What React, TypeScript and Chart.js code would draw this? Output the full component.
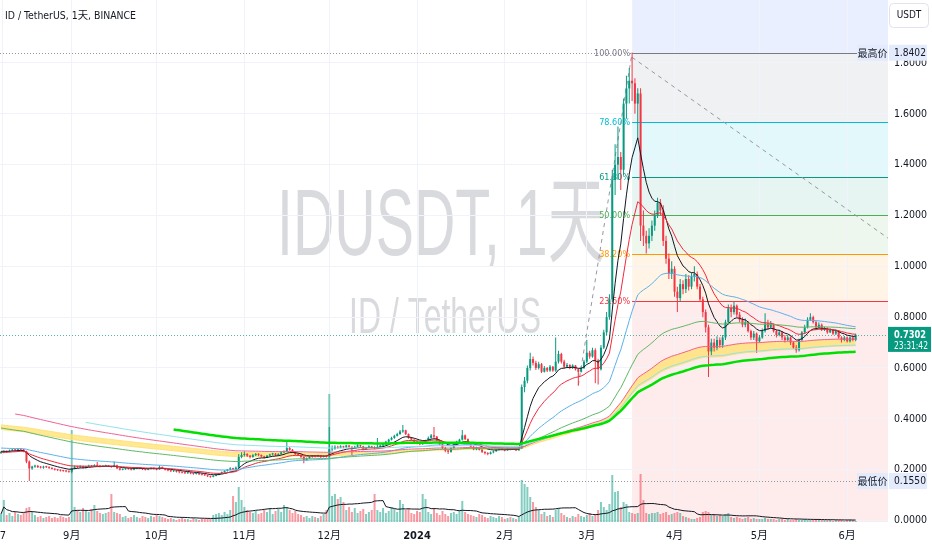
import React, { useEffect, useRef } from 'react';
import { Chart, registerables } from 'chart.js';

Chart.register(...registerables);

// ---------------- data ----------------
const firstOpen = 0.266;
const closes = [
  0.268,0.272,0.270,0.275,0.278,0.276,0.280,0.279,0.272,0.232,
  0.205,0.212,0.215,0.210,0.208,0.212,0.210,0.206,0.203,0.200,
  0.198,0.196,0.195,0.193,0.192,0.205,0.212,0.210,0.214,0.208,
  0.212,0.216,0.213,0.218,0.215,0.212,0.214,0.216,0.213,0.211,
  0.217,0.205,0.200,0.202,0.205,0.203,0.200,0.204,0.207,0.205,
  0.202,0.200,0.203,0.206,0.204,0.201,0.210,0.205,0.200,0.197,
  0.194,0.196,0.192,0.190,0.188,0.186,0.189,0.185,0.183,0.186,
  0.182,0.180,0.178,0.174,0.172,0.176,0.180,0.185,0.190,0.195,
  0.200,0.205,0.202,0.208,0.250,0.258,0.262,0.255,0.250,0.257,
  0.262,0.258,0.252,0.248,0.255,0.260,0.263,0.258,0.262,0.268,
  0.272,0.285,0.278,0.270,0.262,0.258,0.250,0.238,0.245,0.250,
  0.255,0.252,0.256,0.250,0.254,0.252,0.280,0.282,0.290,0.286,
  0.292,0.288,0.295,0.290,0.285,0.290,0.296,0.292,0.280,0.286,
  0.292,0.288,0.283,0.290,0.295,0.300,0.310,0.318,0.325,0.333,
  0.340,0.350,0.355,0.340,0.325,0.318,0.310,0.305,0.300,0.305,
  0.315,0.325,0.335,0.330,0.315,0.300,0.285,0.275,0.270,0.285,
  0.300,0.310,0.318,0.335,0.320,0.305,0.290,0.280,0.285,0.278,
  0.270,0.265,0.262,0.268,0.272,0.278,0.282,0.280,0.276,0.283,
  0.279,0.282,0.276,0.284,0.525,0.550,0.600,0.635,0.620,0.600,
  0.615,0.585,0.600,0.590,0.605,0.590,0.625,0.655,0.625,0.605,
  0.612,0.600,0.610,0.595,0.585,0.600,0.625,0.660,0.645,0.670,
  0.630,0.595,0.680,0.740,0.800,0.870,1.340,1.400,1.430,1.380,
  1.640,1.700,1.730,1.720,1.640,1.680,1.160,1.120,1.090,1.120,
  1.160,1.200,1.250,1.220,1.100,1.030,0.970,0.990,0.900,0.875,
  0.930,0.910,0.950,0.920,0.960,0.970,0.920,0.870,0.820,0.760,
  0.665,0.700,0.680,0.710,0.690,0.720,0.780,0.835,0.820,0.845,
  0.810,0.790,0.770,0.780,0.745,0.720,0.735,0.705,0.720,0.745,
  0.775,0.760,0.770,0.745,0.730,0.740,0.720,0.710,0.720,0.700,
  0.680,0.670,0.710,0.740,0.760,0.790,0.800,0.780,0.760,0.770,
  0.750,0.755,0.740,0.750,0.735,0.745,0.720,0.710,0.720,0.705,
  0.720,0.710,0.7302,
];
const highs = [
  0.272,0.276,0.275,0.279,0.282,0.281,0.284,0.283,0.281,0.274,
  0.236,0.215,0.219,0.218,0.214,0.215,0.215,0.213,0.209,0.206,
  0.203,0.201,0.199,0.198,0.196,0.208,0.216,0.215,0.217,0.216,
  0.215,0.219,0.218,0.221,0.230,0.217,0.217,0.219,0.218,0.215,
  0.232,0.219,0.207,0.205,0.208,0.207,0.205,0.207,0.210,0.209,
  0.207,0.204,0.205,0.209,0.208,0.206,0.216,0.212,0.207,0.202,
  0.199,0.198,0.198,0.194,0.192,0.190,0.191,0.190,0.187,0.188,
  0.188,0.184,0.182,0.180,0.176,0.178,0.182,0.187,0.193,0.198,
  0.203,0.209,0.208,0.212,0.262,0.268,0.272,0.265,0.258,0.262,
  0.266,0.265,0.260,0.255,0.258,0.263,0.267,0.266,0.265,0.272,
  0.276,0.310,0.290,0.281,0.272,0.265,0.260,0.252,0.248,0.254,
  0.258,0.258,0.259,0.257,0.256,0.256,0.368,0.295,0.296,0.294,
  0.296,0.294,0.298,0.297,0.292,0.294,0.300,0.298,0.294,0.290,
  0.296,0.294,0.292,0.325,0.298,0.304,0.314,0.322,0.329,0.337,
  0.345,0.356,0.376,0.357,0.342,0.328,0.320,0.313,0.307,0.310,
  0.318,0.330,0.340,0.368,0.332,0.317,0.302,0.290,0.280,0.288,
  0.304,0.314,0.322,0.356,0.338,0.323,0.307,0.294,0.290,0.288,
  0.281,0.272,0.268,0.271,0.275,0.281,0.285,0.285,0.282,0.286,
  0.285,0.285,0.284,0.287,0.535,0.565,0.610,0.660,0.645,0.628,
  0.625,0.620,0.608,0.604,0.612,0.608,0.720,0.668,0.660,0.632,
  0.620,0.615,0.615,0.612,0.598,0.606,0.632,0.710,0.668,0.680,
  0.678,0.636,0.690,0.750,0.820,0.890,1.380,1.480,1.550,1.450,
  1.660,1.750,1.780,1.8402,1.740,1.700,1.700,1.220,1.140,1.150,
  1.180,1.220,1.270,1.265,1.240,1.120,1.050,1.020,1.000,0.920,
  0.950,0.945,0.970,0.965,0.975,1.000,0.980,0.930,0.880,0.830,
  0.770,0.715,0.715,0.725,0.720,0.730,0.790,0.850,0.850,0.860,
  0.850,0.820,0.800,0.795,0.785,0.750,0.745,0.740,0.730,0.755,
  0.815,0.790,0.785,0.775,0.750,0.750,0.745,0.730,0.730,0.725,
  0.705,0.690,0.715,0.745,0.770,0.800,0.815,0.805,0.785,0.780,
  0.775,0.762,0.760,0.755,0.752,0.750,0.748,0.725,0.726,0.724,
  0.725,0.724,0.735,
];
const lows = [
  0.262,0.265,0.266,0.268,0.272,0.272,0.273,0.275,0.268,0.225,
  0.155,0.200,0.208,0.207,0.205,0.204,0.207,0.204,0.201,0.197,
  0.195,0.193,0.192,0.190,0.188,0.186,0.202,0.206,0.207,0.205,
  0.205,0.210,0.210,0.211,0.212,0.209,0.210,0.212,0.210,0.208,
  0.209,0.203,0.197,0.198,0.200,0.200,0.197,0.198,0.202,0.202,
  0.199,0.197,0.198,0.201,0.201,0.198,0.200,0.203,0.197,0.194,
  0.191,0.191,0.189,0.186,0.185,0.183,0.184,0.182,0.180,0.181,
  0.179,0.177,0.175,0.171,0.168,0.170,0.174,0.178,0.183,0.188,
  0.193,0.198,0.198,0.200,0.205,0.245,0.252,0.250,0.244,0.247,
  0.254,0.253,0.248,0.244,0.246,0.252,0.256,0.254,0.255,0.259,
  0.265,0.270,0.274,0.266,0.258,0.254,0.246,0.225,0.235,0.242,
  0.247,0.248,0.249,0.246,0.248,0.248,0.248,0.272,0.278,0.282,
  0.284,0.284,0.286,0.286,0.258,0.283,0.288,0.288,0.276,0.277,
  0.285,0.284,0.280,0.281,0.287,0.292,0.298,0.306,0.315,0.322,
  0.330,0.337,0.345,0.336,0.322,0.314,0.306,0.300,0.296,0.298,
  0.303,0.313,0.322,0.325,0.312,0.296,0.280,0.268,0.262,0.267,
  0.283,0.297,0.306,0.315,0.317,0.300,0.286,0.276,0.276,0.275,
  0.266,0.260,0.257,0.260,0.265,0.270,0.275,0.276,0.272,0.274,
  0.276,0.277,0.273,0.274,0.282,0.505,0.540,0.590,0.610,0.592,
  0.594,0.580,0.582,0.584,0.585,0.585,0.585,0.618,0.618,0.598,
  0.600,0.595,0.596,0.590,0.530,0.582,0.596,0.620,0.636,0.640,
  0.540,0.535,0.590,0.675,0.730,0.790,0.860,1.280,1.340,1.300,
  1.360,1.580,1.640,1.650,1.600,1.500,1.100,1.080,1.050,1.070,
  1.100,1.140,1.190,1.200,1.080,1.010,0.950,0.950,0.880,0.820,
  0.860,0.890,0.895,0.905,0.910,0.940,0.910,0.860,0.800,0.740,
  0.565,0.650,0.665,0.670,0.680,0.680,0.710,0.770,0.800,0.810,
  0.800,0.780,0.760,0.760,0.740,0.710,0.710,0.660,0.700,0.715,
  0.740,0.750,0.755,0.740,0.720,0.725,0.710,0.700,0.705,0.690,
  0.675,0.660,0.665,0.705,0.735,0.755,0.785,0.775,0.750,0.755,
  0.745,0.745,0.735,0.738,0.730,0.730,0.715,0.700,0.705,0.700,
  0.700,0.705,0.705,
];
// volume in relative units
const volumes = [
  8,22,7,9,6,10,8,7,9,14,
  15,10,7,5,6,4,5,6,4,5,
  4,6,5,4,5,92,15,12,10,14,
  12,10,13,17,11,9,8,9,10,28,
  10,9,8,5,6,4,5,7,5,4,
  6,5,4,6,5,7,6,5,4,3,
  4,3,2,3,4,3,3,2,4,3,
  2,3,3,4,3,7,8,9,7,10,
  8,12,26,20,35,22,15,12,10,9,
  11,8,9,12,10,14,8,11,13,10,
  17,15,12,9,11,8,7,5,6,4,
  6,5,4,6,8,12,128,26,28,23,
  25,20,12,15,10,14,9,11,13,8,
  10,12,28,12,10,14,9,11,15,13,
  10,22,18,12,14,9,8,11,10,28,
  23,10,8,13,9,7,11,8,6,9,
  10,8,12,21,10,8,7,6,5,8,
  7,5,4,6,5,4,6,5,3,4,
  5,4,3,5,42,38,35,25,20,15,
  12,8,10,6,7,5,12,14,9,7,
  5,4,6,5,8,6,5,7,9,6,
  8,12,20,15,12,18,47,30,31,15,
  20,18,10,9,8,9,48,22,9,8,
  9,9,10,8,9,10,7,8,9,10,
  9,6,5,4,3,3,4,5,10,11,
  10,7,8,6,7,6,8,9,5,4,
  5,4,3,4,5,3,4,3,3,3,
  4,3,3,3,2,3,3,2,3,2,
  2,3,2,2,3,2,2,2,2,3,
  2,2,2,2,1,2,2,2,1,2,
  2,2,1,
];

const monthTickDays = [0.7, 25, 55, 86, 116, 147, 178, 207, 238, 268, 299];
const monthTickLabels = ['7', '9月', '10月', '11月', '12月', '2024', '2月', '3月', '4月', '5月', '6月'];
const priceTicks = [0, 0.2, 0.4, 0.6, 0.8, 1.0, 1.2, 1.4, 1.6, 1.8];

const maPeriods = [10, 20, 50, 100, 144, 169, 200];
const maStartDays = [0, 0, 0, 0, 5, 30, 61];
const maStartValues = [0.272, 0.268, 0.285, 0.364, 0.419, 0.386, 0.358];
const tunnelPeriods = [144, 169];
const tunnelStartValues = [0.358, 0.376];
const volumeMaPeriod = 20;

const fibHigh = 1.8402;
const fibLow = 0.5606;
const fibStartDay = 223;
const fibLevels = [1, 0.786, 0.618, 0.5, 0.382, 0.236];
const fibLabels = ['100.00%', '78.60%', '61.80%', '50.00%', '38.20%', '23.60%'];
const trendUpDays = [204, 223];
const trendUpPrices = [0.533, 1.8402];
const trendDownDays = [223, 313.4];
const trendDownPrices = [1.822, 1.111];

const highestPrice = 1.8402;
const lowestPrice = 0.155;
const lastPrice = 0.7302;
const countdownText = '23:31:42';
const titleText = 'ID / TetherUS, 1天, BINANCE';
const watermarkMain = 'IDUSDT, 1天';
const watermarkSub = 'ID / TetherUS';
const highLabel = '最高价';
const lowLabel = '最低价';
const currencyLabel = 'USDT';

// ---------------- styles ----------------
const FAM = "'Liberation Sans Narrow', 'DejaVu Sans Condensed', 'Liberation Sans', 'Noto Sans CJK SC', sans-serif";
const WM_FAM = "'Liberation Sans', 'Noto Sans CJK SC', sans-serif";
const UP = '#089981';
const DOWN = '#f23645';
const TEXT = '#131722';
const GRID = '#f0f3fa';
const MA_COLORS = ['#131722', '#f2293a', '#5eb1ea', '#5fb863', '#f06292', '#8fe3ea', '#00e000'];
const MA_WIDTHS = [1, 1, 1, 1, 1, 1, 2.5];
const FIB_COLORS = ['#787b86', '#00bcd4', '#089981', '#4caf50', '#ff9800', '#f23645'];
const ZONE_FILLS = [
  'rgba(41,98,255,0.10)',
  'rgba(120,123,134,0.11)',
  'rgba(0,188,212,0.11)',
  'rgba(8,153,129,0.10)',
  'rgba(76,175,80,0.10)',
  'rgba(255,152,0,0.10)',
  'rgba(242,54,69,0.10)',
];

function emaSeries(src: number[], period: number, startIndex: number, seed: number) {
  const a = 2 / (period + 1);
  const out: (number | null)[] = src.map(() => null);
  let e = seed;
  out[startIndex] = e;
  for (let i = startIndex + 1; i < src.length; i++) {
    e = e + a * (src[i] - e);
    out[i] = e;
  }
  return out;
}

function smaSeries(src: number[], period: number) {
  return src.map((_, i) => {
    const s = Math.max(0, i - period + 1);
    let sum = 0;
    for (let k = s; k <= i; k++) sum += src[k];
    return sum / (i - s + 1);
  });
}

function drawSquished(ctx: any, text: string, left: number, baseline: number, size: number, width: number) {
  ctx.font = `${size}px ${WM_FAM}`;
  const w = ctx.measureText(text).width;
  ctx.save();
  ctx.translate(left, baseline);
  ctx.scale(width / w, 1);
  ctx.textAlign = 'left';
  ctx.textBaseline = 'alphabetic';
  ctx.fillText(text, 0, 0);
  ctx.restore();
}

const decorPlugin = {
  id: 'decor',
  beforeDraw(chart: any) {
    const { ctx, chartArea: a, scales } = chart;
    const x = scales.x;
    const y = scales.y;
    ctx.save();
    ctx.fillStyle = '#ffffff';
    ctx.fillRect(0, 0, chart.width, chart.height);
    const fx = x.getPixelForValue(fibStartDay);
    const lv = fibLevels.map((l) => y.getPixelForValue(fibLow + (fibHigh - fibLow) * l));
    const bounds = [a.top, ...lv, a.bottom];
    for (let i = 0; i < ZONE_FILLS.length; i++) {
      ctx.fillStyle = ZONE_FILLS[i];
      ctx.fillRect(fx, bounds[i], a.right - fx, bounds[i + 1] - bounds[i]);
    }
    ctx.fillStyle = 'rgba(120,123,134,0.28)';
    drawSquished(ctx, watermarkMain, 277, 255, 95, 328);
    drawSquished(ctx, watermarkSub, 349, 333, 50, 192);
    ctx.restore();
  },
  beforeDatasetsDraw(chart: any) {
    const { ctx, chartArea: a, scales } = chart;
    const x = scales.x;
    const y = scales.y;
    ctx.save();
    ctx.lineWidth = 1;
    const fx = x.getPixelForValue(fibStartDay);
    ctx.setLineDash([1, 2]);
    const dotted: [number, string][] = [
      [highestPrice, '#9598a1'],
      [lowestPrice, '#9598a1'],
      [lastPrice, 'rgba(8,153,129,0.7)'],
    ];
    dotted.forEach(([p, c]) => {
      const py = Math.round(y.getPixelForValue(p)) + 0.5;
      ctx.strokeStyle = c;
      ctx.beginPath();
      ctx.moveTo(a.left, py);
      ctx.lineTo(a.right, py);
      ctx.stroke();
    });
    ctx.setLineDash([]);
    ctx.font = `9px ${FAM}`;
    ctx.textAlign = 'right';
    ctx.textBaseline = 'middle';
    fibLevels.forEach((l, i) => {
      const py = Math.round(y.getPixelForValue(fibLow + (fibHigh - fibLow) * l)) + 0.5;
      ctx.strokeStyle = FIB_COLORS[i];
      ctx.beginPath();
      ctx.moveTo(fx, py);
      ctx.lineTo(a.right, py);
      ctx.stroke();
      ctx.fillStyle = FIB_COLORS[i];
      ctx.fillText(fibLabels[i], fx - 2, py);
    });
    ctx.setLineDash([4, 4]);
    ctx.strokeStyle = '#9598a1';
    ctx.beginPath();
    ctx.moveTo(x.getPixelForValue(trendUpDays[0]), y.getPixelForValue(trendUpPrices[0]));
    ctx.lineTo(x.getPixelForValue(trendUpDays[1]), y.getPixelForValue(trendUpPrices[1]));
    ctx.stroke();
    ctx.beginPath();
    ctx.moveTo(x.getPixelForValue(trendDownDays[0]), y.getPixelForValue(trendDownPrices[0]));
    ctx.lineTo(x.getPixelForValue(trendDownDays[1]), y.getPixelForValue(trendDownPrices[1]));
    ctx.stroke();
    ctx.restore();
  },
  afterDraw(chart: any) {
    const { ctx, chartArea: a, scales } = chart;
    const y = scales.y;
    ctx.save();
    ctx.fillStyle = TEXT;
    ctx.font = `11px ${FAM}`;
    ctx.textAlign = 'left';
    ctx.textBaseline = 'middle';
    ctx.fillText(titleText, 5, 16, 131);
    const boxes: [number, string][] = [
      [highestPrice, highLabel],
      [lowestPrice, lowLabel],
    ];
    boxes.forEach(([p, lab]) => {
      const py = y.getPixelForValue(p);
      ctx.fillStyle = '#e3ebfc';
      ctx.fillRect(a.right - 31, py - 8, 31, 16);
      ctx.fillRect(a.right + 1, py - 8, 38, 16);
      ctx.fillStyle = TEXT;
      ctx.font = `10px 'Noto Sans CJK SC', sans-serif`;
      ctx.textAlign = 'center';
      ctx.fillText(lab, a.right - 15.5, py);
      ctx.font = `11px ${FAM}`;
      ctx.textAlign = 'left';
      ctx.fillText(p.toFixed(4), a.right + 6, py, 32);
    });
    const ly = y.getPixelForValue(lastPrice);
    ctx.fillStyle = UP;
    ctx.fillRect(a.right, ly - 8, chart.width - a.right - 1, 25);
    ctx.fillStyle = '#ffffff';
    ctx.textAlign = 'left';
    ctx.font = `bold 11px ${FAM}`;
    ctx.fillText(lastPrice.toFixed(4), a.right + 6, ly, 32);
    ctx.font = `11px ${FAM}`;
    ctx.fillText(countdownText, a.right + 6, ly + 11, 34);
    const bx = a.right + 1.5, by = 3.5, bw = 39, bh = 24, r = 4;
    ctx.beginPath();
    ctx.moveTo(bx + r, by);
    ctx.lineTo(bx + bw - r, by);
    ctx.arcTo(bx + bw, by, bx + bw, by + r, r);
    ctx.lineTo(bx + bw, by + bh - r);
    ctx.arcTo(bx + bw, by + bh, bx + bw - r, by + bh, r);
    ctx.lineTo(bx + r, by + bh);
    ctx.arcTo(bx, by + bh, bx, by + bh - r, r);
    ctx.lineTo(bx, by + r);
    ctx.arcTo(bx, by, bx + r, by, r);
    ctx.closePath();
    ctx.fillStyle = '#ffffff';
    ctx.fill();
    ctx.strokeStyle = '#e0e3eb';
    ctx.lineWidth = 1;
    ctx.stroke();
    ctx.fillStyle = TEXT;
    ctx.font = `10px ${FAM}`;
    ctx.textAlign = 'center';
    ctx.fillText(currencyLabel, bx + bw / 2, by + bh / 2, 30);
    ctx.restore();
  },
};

export default function App() {
  const ref = useRef<HTMLCanvasElement>(null);
  useEffect(() => {
    document.body.style.margin = '0';
    const canvas = ref.current;
    if (!canvas) return;
    const opens = closes.map((c, i) => (i === 0 ? firstOpen : closes[i - 1]));
    const candleColors = closes.map((c, i) => (c >= opens[i] ? UP : DOWN));
    const volColors = closes.map((c, i) => (c >= opens[i] ? 'rgba(8,153,129,0.5)' : 'rgba(242,54,69,0.5)'));
    const toPts = (arr: (number | null)[]) => arr.map((v, i) => ({ x: i, y: v }));

    const maSets = maPeriods.map((p, k) => ({
      type: 'line',
      label: 'EMA' + p,
      data: toPts(emaSeries(closes, p, maStartDays[k], maStartValues[k])),
      yAxisID: 'y',
      borderColor: MA_COLORS[k],
      borderWidth: MA_WIDTHS[k],
      pointRadius: 0,
      tension: 0,
      fill: false,
      order: 1 + (maPeriods.length - k) * 0.1,
    }));
    const tunnelSets = tunnelPeriods.map((p, k) => ({
      type: 'line',
      label: 'Tunnel' + p,
      data: toPts(emaSeries(closes, p, 0, tunnelStartValues[k])),
      yAxisID: 'y',
      borderColor: '#ffe27a',
      backgroundColor: 'rgba(255,226,110,0.75)',
      borderWidth: 1,
      pointRadius: 0,
      tension: 0,
      fill: k === 0 ? '+1' : false,
      order: 15 - k,
    }));

    const xMin = -0.353;
    const xMax = 313.43;
    const yMin = -0.0059;
    const yMax = 2.0476;

    const chart = new Chart(canvas, {
      type: 'bar',
      data: {
        datasets: [
          {
            type: 'bar',
            label: 'Volume',
            data: volumes.map((v, i) => ({ x: i, y: v })),
            yAxisID: 'yv',
            backgroundColor: volColors,
            barThickness: 2,
            grouped: false,
            inflateAmount: 0,
            order: 20,
          },
          {
            type: 'line',
            label: 'Volume MA',
            data: toPts(smaSeries(volumes, volumeMaPeriod)),
            yAxisID: 'yv',
            borderColor: '#131722',
            borderWidth: 1,
            pointRadius: 0,
            fill: false,
            order: 19,
          },
          ...tunnelSets,
          {
            type: 'bar',
            label: 'Wicks',
            data: closes.map((c, i) => ({ x: i, y: [lows[i], highs[i]] })),
            yAxisID: 'y',
            backgroundColor: candleColors,
            barThickness: 1,
            grouped: false,
            inflateAmount: 0,
            minBarLength: 1,
            order: 10,
          },
          {
            type: 'bar',
            label: 'Bodies',
            data: closes.map((c, i) => ({ x: i, y: [opens[i], c] })),
            yAxisID: 'y',
            backgroundColor: candleColors,
            barThickness: 2,
            grouped: false,
            inflateAmount: 0,
            minBarLength: 1,
            order: 9,
          },
          ...maSets,
        ] as any,
      },
      options: {
        responsive: false,
        maintainAspectRatio: false,
        animation: false,
        events: [],
        layout: { padding: 0 },
        plugins: { legend: { display: false }, tooltip: { enabled: false } },
        scales: {
          x: {
            type: 'linear',
            position: 'bottom',
            min: xMin,
            max: xMax,
            offset: false,
            afterBuildTicks: (s: any) => {
              s.ticks = monthTickDays.map((v) => ({ value: v }));
            },
            afterFit: (s: any) => {
              s.height = 28;
              s.paddingLeft = 0;
              s.paddingRight = 0;
            },
            ticks: {
              autoSkip: false,
              maxRotation: 0,
              minRotation: 0,
              padding: 0,
              color: TEXT,
              font: (c: any) => ({ family: FAM, size: 11, weight: monthTickLabels[c.index] === '2024' ? 'bold' : 'normal' }),
              callback: (_v: any, i: number) => monthTickLabels[i],
            },
            grid: { color: GRID, offset: false, drawTicks: true, tickLength: 8, tickColor: 'rgba(0,0,0,0)' },
            border: { display: false },
          },
          y: {
            type: 'linear',
            position: 'right',
            min: yMin,
            max: yMax,
            afterBuildTicks: (s: any) => {
              s.ticks = priceTicks.map((v) => ({ value: v }));
            },
            afterFit: (s: any) => {
              s.width = 44;
              s.paddingTop = 0;
              s.paddingBottom = 0;
            },
            ticks: {
              padding: 0,
              color: TEXT,
              font: { family: FAM, size: 10.5 },
              callback: (v: any) => Number(v).toFixed(4),
            },
            grid: { color: GRID, drawTicks: true, tickLength: 6, tickColor: 'rgba(0,0,0,0)' },
            border: { display: false },
          },
          yv: {
            type: 'linear',
            display: false,
            min: 0,
            max: 522,
          },
        },
      } as any,
      plugins: [decorPlugin],
    });
    return () => chart.destroy();
  }, []);
  return <canvas ref={ref} width={932} height={550} style={{ display: 'block' }} />;
}
